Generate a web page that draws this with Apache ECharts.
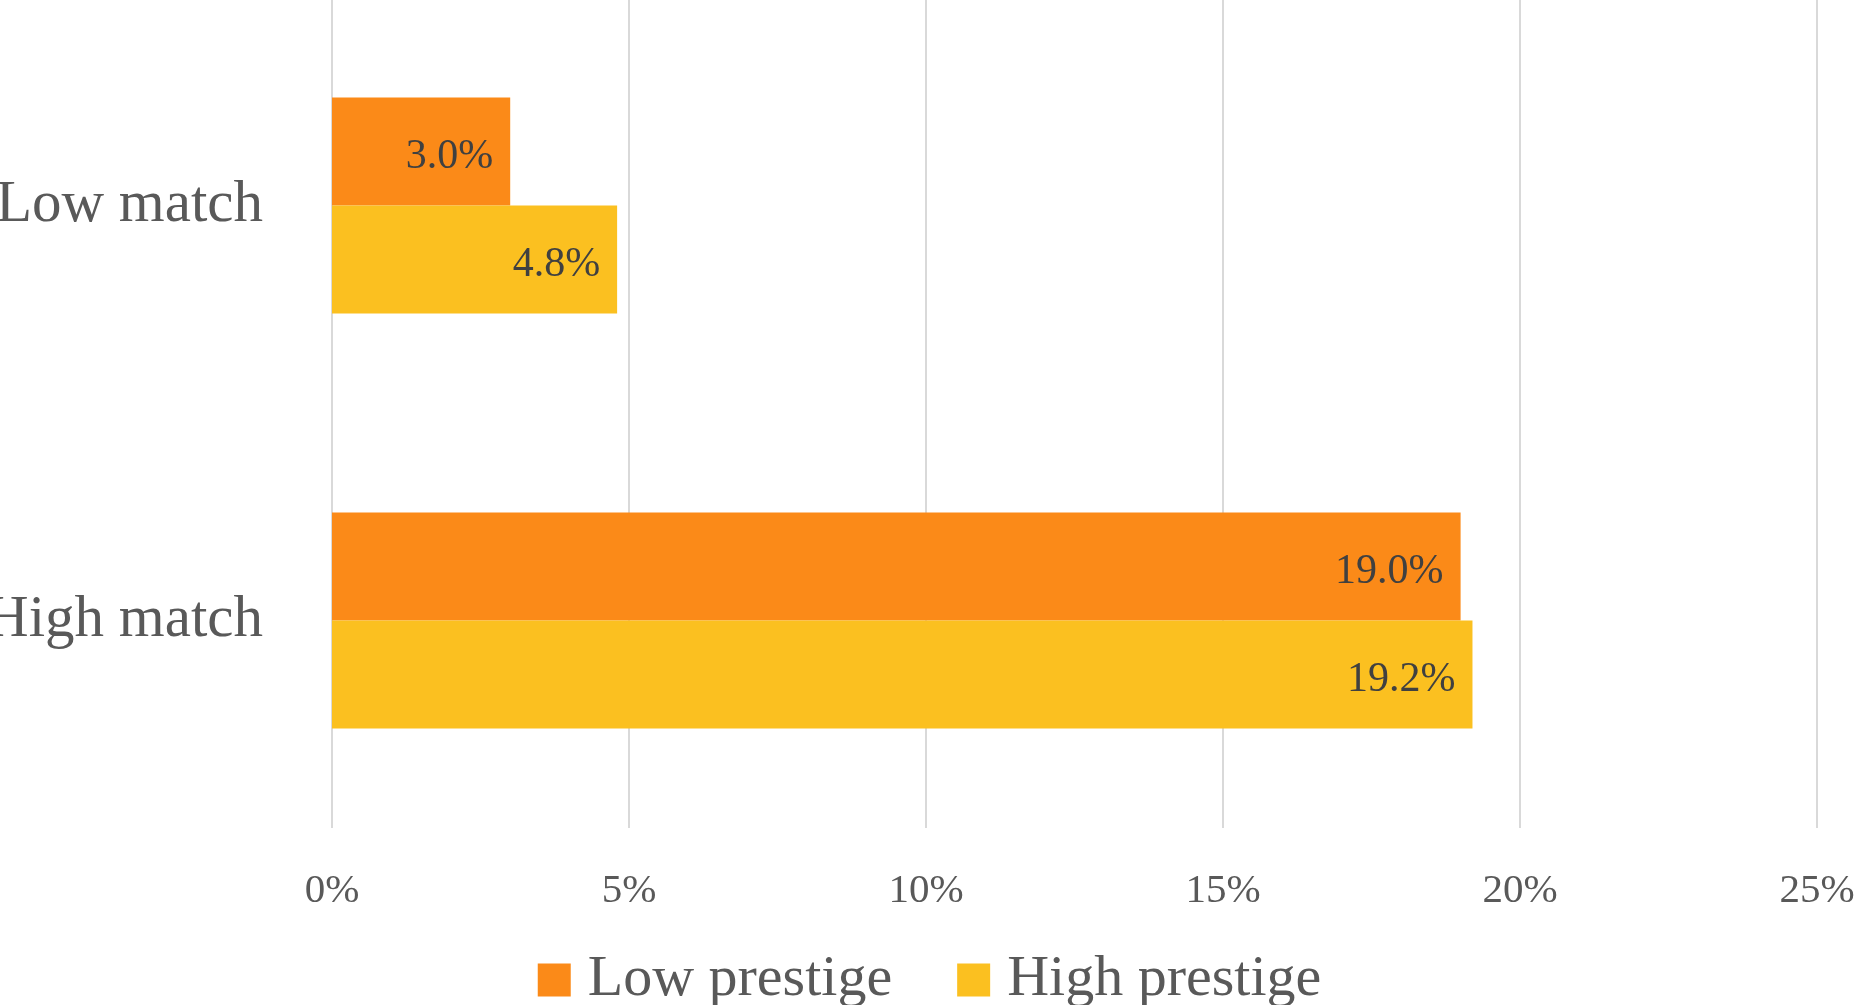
<!DOCTYPE html>
<html>
<head>
<meta charset="utf-8">
<script src="https://cdn.jsdelivr.net/npm/echarts@6/dist/echarts.min.js"></script>
<style>
  html, body { margin: 0; padding: 0; background: #ffffff; }
  #chart { width: 1859px; height: 1005px; }
</style>
</head>
<body>
<div id="chart"></div>
<script>
// Share of each match group, by prestige level (percent)
const categories = ['Low match', 'High match'];
const seriesNames = ['Low prestige', 'High prestige'];
const lowPrestige = [3.0, 19.0];
const highPrestige = [4.8, 19.2];
const xTicks = { min: 0, max: 25, interval: 5 };

const FONT = '"Liberation Serif", "DejaVu Serif", serif';

const chart = echarts.init(document.getElementById('chart'));

const labelStyle = {
  show: true,
  position: 'insideRight',
  distance: 17,
  offset: [0, 5],
  color: '#404040',
  fontFamily: FONT,
  fontSize: 42,
  formatter: p => p.value.toFixed(1) + '%'
};

chart.setOption({
  backgroundColor: '#ffffff',
  animation: false,
  grid: {
    left: 332, right: 42, top: -2, bottom: 177,
    containLabel: false,
    outerBoundsMode: 'none'
  },
  legend: {
    top: 946,
    left: 'center',
    itemWidth: 33,
    itemHeight: 33,
    itemGap: 65,
    icon: 'rect',
    textStyle: { color: '#595959', fontFamily: FONT, fontSize: 58, padding: [0, 0, 0, 12] },
    data: seriesNames
  },
  xAxis: {
    type: 'value',
    min: xTicks.min,
    max: xTicks.max,
    interval: xTicks.interval,
    axisLine: { show: false },
    axisTick: { show: false },
    splitLine: { show: true, lineStyle: { color: '#d9d9d9', width: 2 } },
    axisLabel: {
      color: '#595959',
      fontFamily: FONT,
      fontSize: 41,
      margin: 43,
      formatter: v => v + '%'
    }
  },
  yAxis: {
    type: 'category',
    inverse: true,
    data: categories,
    axisLine: { show: false },
    axisTick: { show: false },
    axisLabel: {
      color: '#595959',
      fontFamily: FONT,
      fontSize: 59,
      margin: 69
    }
  },
  series: [
    {
      name: seriesNames[0],
      type: 'bar',
      data: lowPrestige,
      barWidth: 108,
      barGap: '0%',
      itemStyle: { color: '#fb8a18' },
      label: labelStyle
    },
    {
      name: seriesNames[1],
      type: 'bar',
      data: highPrestige,
      barWidth: 108,
      barGap: '0%',
      itemStyle: { color: '#fbc020' },
      label: labelStyle
    }
  ]
});
</script>
</body>
</html>
